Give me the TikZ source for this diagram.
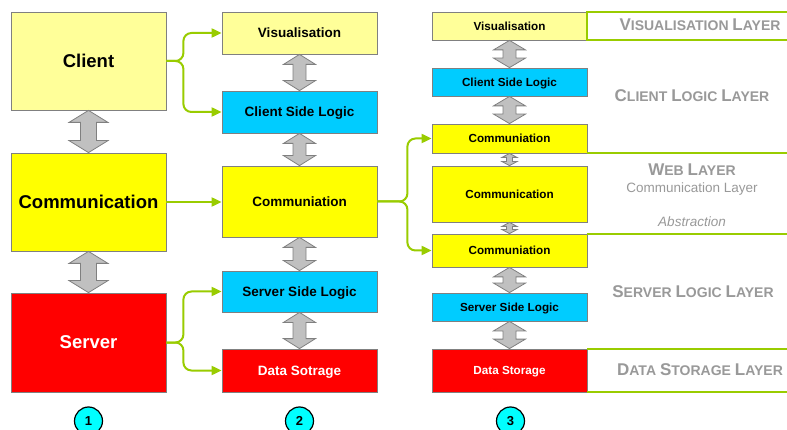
\documentclass[tikz,border=0pt]{standalone}
\usepackage{fontspec}
\setmainfont{Liberation Sans}
\usetikzlibrary{arrows.meta,calc}
\definecolor{lyel}{HTML}{FFFF99}
\definecolor{yel}{HTML}{FFFF00}
\definecolor{blu}{HTML}{00CCFF}
\definecolor{rd}{HTML}{FF0000}
\definecolor{grn}{HTML}{99CC00}
\definecolor{cyn}{HTML}{00FFFF}
\definecolor{agray}{HTML}{C0C0C0}
\definecolor{bgray}{HTML}{808080}
\definecolor{tgray}{HTML}{999999}
\newcommand\lsc[2]{{\fontsize{17}{18}\selectfont #1}{\fontsize{14}{15}\selectfont #2}}
% top node, bottom node, half width, shaft half width, head length
\newcommand\dblarr[5]{%
  \path[garrow] let \p1=(#1.south), \p2=(#2.north) in
  (\x1,\y1) -- (\x1+#3pt,\y1-#5pt) -- (\x1+#4pt,\y1-#5pt) -- (\x1+#4pt,\y2+#5pt)
  -- (\x1+#3pt,\y2+#5pt) -- (\x1,\y2) -- (\x1-#3pt,\y2+#5pt) -- (\x1-#4pt,\y2+#5pt)
  -- (\x1-#4pt,\y1-#5pt) -- (\x1-#3pt,\y1-#5pt) -- cycle;}
\begin{document}
\begin{tikzpicture}[x=1pt,y=-1pt,
  box/.style={draw=bgray,line width=0.8pt,minimum width=155pt,inner sep=0pt,
    text depth=0pt,execute at begin node=\vphantom{C}},
  big/.style={font=\fontsize{18.5}{20}\selectfont\bfseries},
  mid/.style={font=\fontsize{13.5}{15}\selectfont\bfseries},
  sml/.style={font=\fontsize{11.7}{13}\selectfont\bfseries},
  garrow/.style={draw=bgray,fill=agray,line width=0.8pt,line join=miter},
  gline/.style={draw=grn,line width=2pt,rounded corners=8pt,-{Triangle[length=10pt,width=9pt]}},
  layline/.style={draw=grn,line width=2pt},
  lay/.style={anchor=base,inner sep=0pt,text=tgray,font=\fontsize{14}{15}\selectfont\bfseries},
  circ/.style={circle,draw=black,line width=1.2pt,fill=cyn,minimum size=28pt,inner sep=0pt,
    font=\fontsize{13}{13}\selectfont\bfseries}]
\useasboundingbox (0,0) rectangle (787,430);
\fill[white] (0,0) rectangle (787,430);
\coordinate (edge) at (787,0);

% column 1
\node[box,big,fill=lyel,minimum height=98pt] (client) at (88.5,61) {Client};
\node[box,big,fill=yel,minimum height=98pt] (comm1) at (88.5,202) {Communication};
\node[box,big,fill=rd,text=white,minimum height=99pt] (server) at (88.5,342.5) {Server};

% column 2
\node[box,mid,fill=lyel,minimum height=42pt] (vis2) at (299.5,33) {Visualisation};
\node[box,mid,fill=blu,minimum height=42pt] (csl2) at (299.5,112) {Client Side Logic};
\node[box,mid,fill=yel,minimum height=71pt] (com2) at (299.5,201.5) {Communiation};
\node[box,mid,fill=blu,minimum height=41pt] (ssl2) at (299.5,291.5) {Server Side Logic};
\node[box,mid,fill=rd,text=white,minimum height=43pt] (ds2) at (299.5,370.5) {Data Sotrage};

% column 3
\node[box,sml,fill=lyel,minimum height=28pt] (vis3) at (509.5,26) {Visualisation};
\node[box,sml,fill=blu,minimum height=28pt] (csl3) at (509.5,82) {Client Side Logic};
\node[box,sml,fill=yel,minimum height=29pt] (coma) at (509.5,138.5) {Communiation};
\node[box,sml,fill=yel,minimum height=56pt] (comb) at (509.5,194) {Communication};
\node[box,sml,fill=yel,minimum height=33pt] (comc) at (509.5,250.5) {Communiation};
\node[box,sml,fill=blu,minimum height=28pt] (ssl3) at (509.5,307) {Server Side Logic};
\node[box,sml,fill=rd,text=white,minimum height=43pt] (ds3) at (509.5,370.5) {Data Storage};

% grey double arrows
\dblarr{client}{comm1}{19.5}{8}{12}
\dblarr{comm1}{server}{19.5}{8}{12}
\dblarr{vis2}{csl2}{16}{6.5}{10}
\dblarr{csl2}{com2}{16}{6.5}{10}
\dblarr{com2}{ssl2}{16}{6.5}{10}
\dblarr{ssl2}{ds2}{16}{6.5}{10}
\dblarr{vis3}{csl3}{16}{6.5}{9.5}
\dblarr{csl3}{coma}{16}{6.5}{9.5}
\dblarr{coma}{comb}{7.5}{3}{4}
\dblarr{comb}{comc}{7.5}{3}{4}
\dblarr{comc}{ssl3}{16}{6.5}{9.5}
\dblarr{ssl3}{ds3}{16}{6.5}{9.5}

% green connectors
\draw[gline] (client.east) -- ($(client.east)+(17,0)$) |- (vis2.west);
\draw[gline] (client.east) -- ($(client.east)+(17,0)$) |- (csl2.west);
\draw[gline] (comm1.east) -- (comm1.east -| com2.west);
\draw[gline] (server.east) -- ($(server.east)+(17,0)$) |- (ssl2.west);
\draw[gline] (server.east) -- ($(server.east)+(17,0)$) |- (ds2.west);
\draw[gline] (com2.east) -- ($(com2.east)+(30,0)$) |- (coma.west);
\draw[gline] (com2.east) -- ($(com2.east)+(30,0)$) |- (comc.west);

% layer lines
\draw[layline] (vis3.north east -| edge) -- (vis3.north east) -- (vis3.south east) -- (vis3.south east -| edge);
\draw[layline] (coma.south east) -- (coma.south east -| edge);
\draw[layline] (comc.north east) -- (comc.north east -| edge);
\draw[layline] (ds3.north east) -- (ds3.north east -| edge);
\draw[layline] (ds3.south east) -- (ds3.south east -| edge);

% layer texts
\node[lay] (l1) at (700,31) {\lsc{V}{ISUALISATION} \lsc{L}{AYER}};
\node[lay] (l2) at (692,102) {\lsc{C}{LIENT} \lsc{L}{OGIC} \lsc{L}{AYER}};
\node[lay] (l3) at (692,176) {\lsc{W}{EB} \lsc{L}{AYER}};
\node[lay,font=\fontsize{13.5}{15}\selectfont] (l3b) at (692,193) {Communication Layer};
\node[lay,font=\fontsize{13.5}{15}\selectfont\itshape] (l3c) at (692,227) {Abstraction};
\node[lay] (l4) at (693,298) {\lsc{S}{ERVER} \lsc{L}{OGIC} \lsc{L}{AYER}};
\node[lay] (l5) at (700,375) {\lsc{D}{ATA} \lsc{S}{TORAGE} \lsc{L}{AYER}};

% numbers
\node[circ] (n1) at (88.5,421) {1};
\node[circ] (n2) at (299.5,421) {2};
\node[circ] (n3) at (510.5,421) {3};
\end{tikzpicture}
\end{document}
